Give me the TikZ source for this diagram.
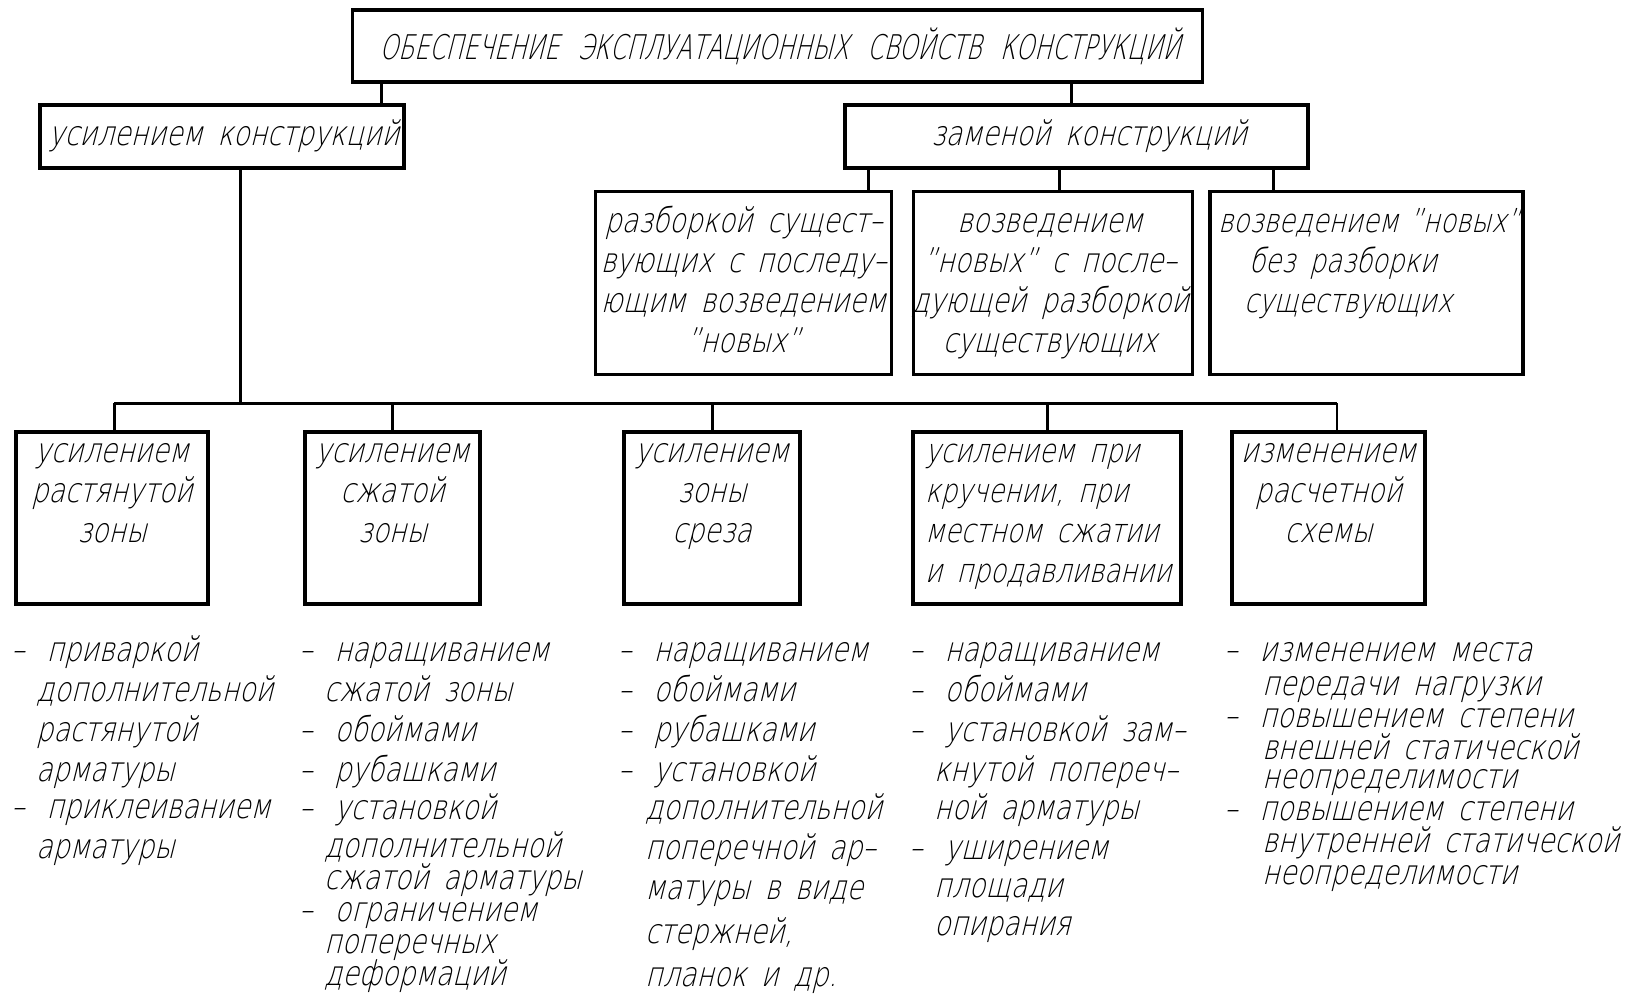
\documentclass[tikz,border=0pt]{standalone}
\usepackage{fontspec}
\setmainfont{DejaVu Sans ExtraLight}[FakeSlant=0.25, FakeStretch=0.79, WordSpace=1.7]
\newfontfamily\titlefont{DejaVu Sans ExtraLight}[FakeSlant=0.25, FakeStretch=0.69, WordSpace=2.5]
\newcommand\firstline{\rule{0pt}{28pt}}
\newcommand\bul{–\hspace*{22pt}}

\tikzset{
	box/.style = {draw, line width = 3.2pt, rectangle, inner sep = 0pt},
	link/.style = {line width = 3pt},
	thinlink/.style = {line width = 1.2pt},
	boxtext/.style = {align = center, inner sep = 0pt, anchor = north},
	listtext/.style = {align = left, inner sep = 0pt, anchor = north west}
}

\begin{document}
\begin{tikzpicture}[x = 1pt, y = -1pt, font = \fontsize{34}{40}\selectfont]
		\useasboundingbox (0, 0) rectangle (1650, 994);
		\fill [white] (0, 0) rectangle (1650, 994);
		
		% upper level
		\node [box, minimum width = 850, minimum height = 72] (top) at (777.5, 46) {};
		\node [inner sep = 0pt, font = \titlefont\fontsize{34}{40}\selectfont] (top text) at (780, 46)
			{ОБЕСПЕЧЕНИЕ  ЭКСПЛУАТАЦИОННЫХ  СВОЙСТВ  КОНСТРУКЦИЙ};
		
		\node [box, minimum width = 364, minimum height = 63] (reinf) at (222, 136.5) {};
		\node [inner sep = 0pt] (reinf text) at (224, 136.5) {усилением  конструкций};
		
		\node [box, minimum width = 463, minimum height = 63] (repl) at (1076.5, 136.5) {};
		\node [inner sep = 0pt] (repl text) at (1089, 136.5) {заменой  конструкций};
		
		% replacement variants
		\node [box, minimum width = 296, minimum height = 183] (s1) at (743.5, 283) {};
		\node [boxtext] (s1 text) at (743.5, 204)
			{\firstline разборкой  сущест–\\вующих  с  последу–\\ющим  возведением\\”новых”};
		
		\node [box, minimum width = 279, minimum height = 183] (s2) at (1053, 283) {};
		\node [boxtext] (s2 text) at (1050, 204)
			{\firstline возведением\\”новых”  с  после–\\дующей  разборкой\\существующих};
		
		\node [box, minimum width = 313, minimum height = 183] (s3) at (1366.5, 283) {};
		\node [listtext, font = \fontsize{33}{40}\selectfont] (s3 text) at (1218, 204)
			{\firstline возведением\hspace{11pt}”новых”\\
			\hspace*{31pt}без  разборки\\
			\hspace*{26pt}существующих};
		
		% reinforcement variants
		\node [box, minimum width = 192, minimum height = 172] (bA) at (112, 518) {};
		\node [boxtext] (bA text) at (bA.center |- 0, 434) {\firstline усилением\\растянутой\\зоны};
		
		\node [box, minimum width = 175, minimum height = 172] (bB) at (392.5, 518) {};
		\node [boxtext] (bB text) at (bB.center |- 0, 434) {\firstline усилением\\сжатой\\зоны};
		
		\node [box, minimum width = 176, minimum height = 172] (bC) at (712, 518) {};
		\node [boxtext] (bC text) at (bC.center |- 0, 434) {\firstline усилением\\зоны\\среза};
		
		\node [box, minimum width = 268, minimum height = 172] (bD) at (1047, 518) {};
		\node [listtext, font = \fontsize{33}{40}\selectfont] (bD text) at (925, 434)
			{\firstline усилением  при\\кручении,  при\\местном  сжатии\\и  продавливании};
		
		\node [box, minimum width = 193, minimum height = 172] (bE) at (1328.5, 518) {};
		\node [boxtext] (bE text) at (bE.center |- 0, 434) {\firstline изменением\\расчетной\\схемы};
		
		% connectors
		\coordinate (jL) at (381, 0);
		\coordinate (jR) at (1071, 0);
		\coordinate (j1) at (868, 0);
		\coordinate (j2) at (1059, 0);
		\coordinate (j3) at (1273, 0);
		\coordinate (trunk) at (240, 403);
		\coordinate (bus left) at (114, 403);
		\coordinate (bus right) at (1337, 403);
		
		\draw [link] (top.south -| jL) -- (reinf.north -| jL);
		\draw [link] (top.south -| jR) -- (repl.north -| jR);
		\draw [link] (repl.south -| j1) -- (s1.north -| j1);
		\draw [link] (repl.south -| j2) -- (s2.north -| j2);
		\draw [link] (repl.south -| j3) -- (s3.north -| j3);
		
		\draw [link] (reinf.south -| trunk) -- (trunk);
		\draw [link] (bus left) -- (bus right);
		\draw [link] (bus left) -- (bA.north -| bus left);
		\draw [link] (bB.north |- bus left) -- (bB.north);
		\draw [link] (bC.north |- bus left) -- (bC.north);
		\draw [link] (bD.north |- bus left) -- (bD.north);
		\draw [thinlink] (bus right) -- (bE.north -| bus right);
		
		% methods
		\node [listtext] (mA) at (11, 633)
			{\firstline \bul приваркой\\
			\hspace*{25pt}дополнительной\\
			\hspace*{25pt}растянутой\\
			\hspace*{25pt}арматуры\\[-3pt]
			\bul приклеиванием\\
			\hspace*{25pt}арматуры};
		
		\node [listtext] (mB) at (299, 633)
			{\firstline \bul наращиванием\\
			\hspace*{25pt}сжатой  зоны\\
			\bul обоймами\\
			\bul рубашками\\[-2pt]
			\bul установкой\\[-2pt]
			\hspace*{25pt}дополнительной\\[-8pt]
			\hspace*{25pt}сжатой  арматуры\\[-8pt]
			\bul ограничением\\[-8pt]
			\hspace*{25pt}поперечных\\[-8pt]
			\hspace*{25pt}деформаций};
		
		\node [listtext] (mC) at (618, 633)
			{\firstline \bul наращиванием\\
			\bul обоймами\\
			\bul рубашками\\
			\bul установкой\\[-2pt]
			\hspace*{27pt}дополнительной\\
			\hspace*{27pt}поперечной  ар–\\
			\hspace*{27pt}матуры  в  виде\\[4pt]
			\hspace*{27pt}стержней,\\[3pt]
			\hspace*{27pt}планок  и  др.};
		
		\node [listtext] (mD) at (909, 633)
			{\firstline \bul наращиванием\\
			\bul обоймами\\
			\bul установкой  зам–\\
			\hspace*{25pt}кнутой  попереч–\\[-2pt]
			\hspace*{25pt}ной  арматуры\\
			\bul уширением\\[-2pt]
			\hspace*{25pt}площади\\[-2pt]
			\hspace*{25pt}опирания};
		
		\node [listtext, font = \fontsize{34}{32}\selectfont] (mE) at (1224, 633)
			{\firstline \bul изменением  места\\[2pt]
			\hspace*{38pt}передачи  нагрузки\\
			\bul повышением  степени\\
			\hspace*{38pt}внешней  статической\\[-3pt]
			\hspace*{38pt}неопределимости\\
			\bul повышением  степени\\
			\hspace*{38pt}внутренней  статической\\
			\hspace*{38pt}неопределимости};
	\end{tikzpicture}
\end{document}
